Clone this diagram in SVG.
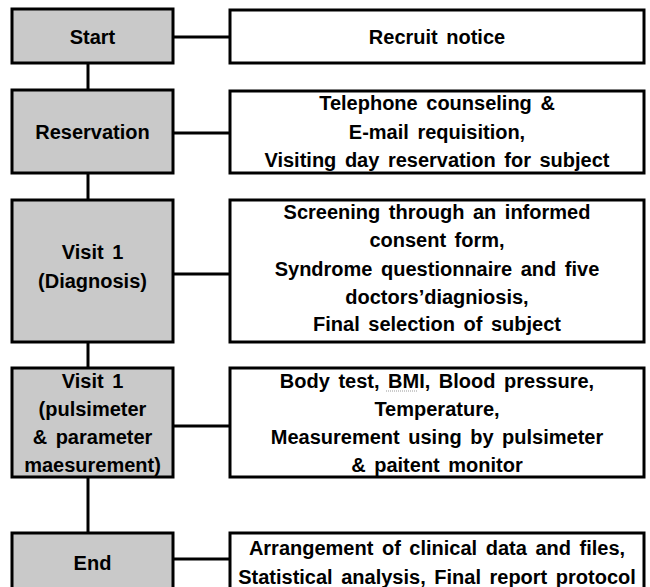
<svg xmlns="http://www.w3.org/2000/svg" width="650" height="587" viewBox="0 0 650 587">
<style>
.stage{fill:#c9c9c9;stroke:#000;stroke-width:3}
.desc{fill:#fff;stroke:#000;stroke-width:3}
.conn line{stroke:#000;stroke-width:3}
text{font-family:"Liberation Sans",Arial,sans-serif;font-weight:bold;font-size:20px;fill:#000;text-anchor:middle;word-spacing:3px}
</style>
<rect width="650" height="587" fill="#fff"/>
<g id="connectors" class="conn">
<line x1="88" y1="63" x2="88" y2="90"/>
<line x1="88" y1="173" x2="88" y2="200"/>
<line x1="88" y1="342" x2="88" y2="368"/>
<line x1="88" y1="477" x2="88" y2="533"/>
<line x1="173" y1="37" x2="230" y2="37"/>
<line x1="173" y1="133" x2="230" y2="133"/>
<line x1="173" y1="274" x2="230" y2="274"/>
<line x1="173" y1="426" x2="230" y2="426"/>
<line x1="173" y1="559" x2="230" y2="559"/>
</g>
<g id="start">
<rect class="stage" x="12" y="9" width="161" height="54"/>
<text x="92.5" y="44">Start</text>
</g>
<g id="recruit">
<rect class="desc" x="230" y="10" width="414" height="53"/>
<text x="437" y="44">Recruit notice</text>
</g>
<g id="reservation">
<rect class="stage" x="12" y="90" width="161" height="83"/>
<text x="92.5" y="139">Reservation</text>
</g>
<g id="reservation-desc">
<rect class="desc" x="230" y="91" width="414" height="82"/>
<text x="437" y="110">Telephone counseling &amp;</text>
<text x="437" y="139">E-mail requisition,</text>
<text x="437" y="167">Visiting day reservation for subject</text>
</g>
<g id="visit1-diagnosis">
<rect class="stage" x="12" y="200" width="161" height="142"/>
<text x="92.5" y="259">Visit 1</text>
<text x="92.5" y="288">(Diagnosis)</text>
</g>
<g id="diagnosis-desc">
<rect class="desc" x="230" y="200" width="414" height="142"/>
<text x="437" y="219">Screening through an informed</text>
<text x="437" y="247">consent form,</text>
<text x="437" y="276">Syndrome questionnaire and five</text>
<text x="437" y="304">doctors’diagniosis,</text>
<text x="437" y="331">Final selection of subject</text>
</g>
<g id="visit1-pulsimeter">
<rect class="stage" x="12" y="368" width="161" height="109"/>
<text x="92.5" y="388">Visit 1</text>
<text x="92.5" y="416">(pulsimeter</text>
<text x="92.5" y="444">&amp; parameter</text>
<text x="92.5" y="472">maesurement)</text>
</g>
<g id="pulsimeter-desc">
<rect class="desc" x="230" y="368" width="414" height="109"/>
<text x="437" y="388">Body test, BMI, Blood pressure,</text>
<line x1="386" y1="391" x2="418" y2="391" stroke="#999" stroke-width="1" stroke-dasharray="1 1"/>
<text x="437" y="416">Temperature,</text>
<text x="437" y="444">Measurement using by pulsimeter</text>
<text x="437" y="472">&amp; paitent monitor</text>
</g>
<g id="end">
<rect class="stage" x="12" y="533" width="161" height="70"/>
<text x="92.5" y="570">End</text>
</g>
<g id="end-desc">
<rect class="desc" x="230" y="533" width="414" height="70"/>
<text x="437" y="555">Arrangement of clinical data and files,</text>
<text x="437" y="584">Statistical analysis, Final report protocol</text>
</g>
</svg>
